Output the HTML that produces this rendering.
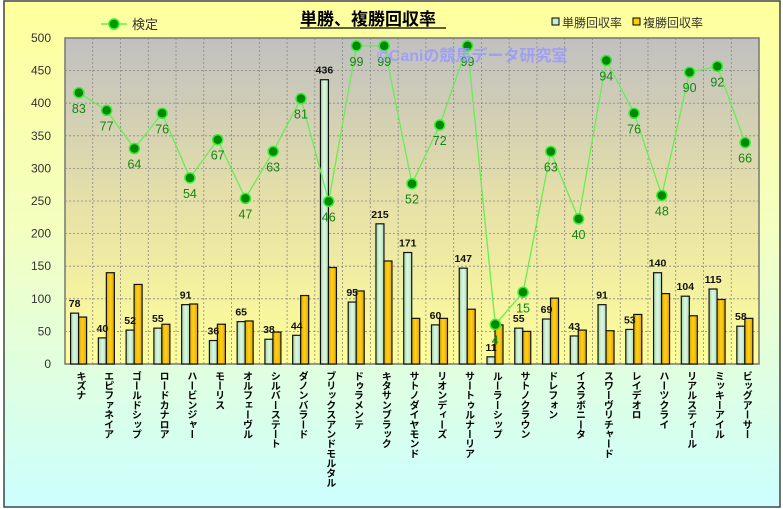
<!DOCTYPE html>
<html><head><meta charset="utf-8"><style>
body{margin:0;width:783px;height:509px;overflow:hidden;font-family:"Liberation Sans","Noto Sans CJK JP",sans-serif;}
#w{position:relative;width:783px;height:509px;}
.xl{position:absolute;top:371px;writing-mode:vertical-rl;text-orientation:upright;font-size:10px;color:#000;line-height:11px;white-space:nowrap;letter-spacing:-0.3px;font-weight:bold;}
</style></head><body><div id="w">
<svg width="783" height="509" style="position:absolute;left:0;top:0" font-family="Liberation Sans, Noto Sans CJK JP, sans-serif">
<defs>
<linearGradient id="bg" x1="0" y1="0" x2="0" y2="1"><stop offset="0" stop-color="#ffff9c"/><stop offset="0.45" stop-color="#f4ffc0"/><stop offset="1" stop-color="#ccffff"/></linearGradient>
<linearGradient id="pl" x1="0" y1="0" x2="0" y2="1"><stop offset="0" stop-color="#c0c0c0"/><stop offset="0.5" stop-color="#e6e0a8"/><stop offset="1" stop-color="#ffff99"/></linearGradient>
<linearGradient id="gb" x1="0" y1="0" x2="1" y2="0"><stop offset="0" stop-color="#9fd9a9"/><stop offset="0.5" stop-color="#e0f7e4"/><stop offset="1" stop-color="#a9dfb2"/></linearGradient>
<linearGradient id="ob" x1="0" y1="0" x2="1" y2="0"><stop offset="0" stop-color="#e6a800"/><stop offset="0.5" stop-color="#ffd21a"/><stop offset="1" stop-color="#e0a000"/></linearGradient>
</defs>
<rect x="4" y="1" width="776" height="506" fill="url(#bg)" stroke="#444" stroke-width="1.5"/>
<rect x="65" y="38" width="694" height="326" fill="url(#pl)" stroke="#777" stroke-width="1.5"/>
<g id="grid" stroke="#888" stroke-dasharray="2,2" stroke-width="0.8"></g>
<g id="bars"></g>
<g id="line"></g>
<text x="377" y="61" font-size="16" font-weight="bold" fill="#9999ff" opacity="0.85">©Caniの競馬データ研究室</text>
<text x="300" y="25" font-size="17" font-weight="bold" fill="#000">単勝、複勝回収率</text>
<line x1="300" y1="28" x2="446" y2="28" stroke="#000" stroke-width="1.2"/>
<line x1="101" y1="24" x2="127" y2="24" stroke="#66ee55" stroke-width="1.5"/>
<circle cx="114" cy="24" r="5" fill="#009900" stroke="#33ee33" stroke-width="1.5"/>
<text x="132" y="29" font-size="13" fill="#333">検定</text>
<rect x="552" y="18" width="7" height="7" fill="#c8f0d0" stroke="#000"/>
<text x="562" y="27" font-size="12" fill="#333">単勝回収率</text>
<rect x="633" y="18" width="7" height="7" fill="#ffcc00" stroke="#000"/>
<text x="643" y="27" font-size="12" fill="#333">複勝回収率</text>
<g id="yt" font-size="12" fill="#333" text-anchor="end"></g>
</svg>
<div id="xls"></div>
</div>
<script>
var names=["キズナ","エピファネイア","ゴールドシップ","ロードカナロア","ハービンジャー","モーリス","オルフェーヴル","シルバーステート","ダノンバラード","ブリックスアンドモルタル","ドゥラメンテ","キタサンブラック","サトノダイヤモンド","リオンディーズ","サートゥルナーリア","ルーラーシップ","サトノクラウン","ドレフォン","イスラボニータ","スワーヴリチャード","レイデオロ","ハーツクライ","リアルスティール","ミッキーアイル","ビッグアーサー"];
var t=[78,40,52,55,91,36,65,38,44,436,95,215,171,60,147,11,55,69,43,91,53,140,104,115,58];
var f=[72,140,122,61,92,61,66,49,105,148,112,158,70,70,84,60,50,101,52,51,76,108,74,99,70];
var k=[83,77,64,76,54,67,47,63,81,46,99,99,52,72,99,4,15,63,40,94,76,48,90,92,66];
var L=65,W=27.76,B=364,S=0.652,NS="http://www.w3.org/2000/svg";
function el(p,n,a,txt){var e=document.createElementNS(NS,n);for(var x in a)e.setAttribute(x,a[x]);if(txt!=null)e.textContent=txt;document.getElementById(p).appendChild(e);return e;}
for(var v=50;v<500;v+=50){el("grid","line",{x1:L,x2:759,y1:B-v*S,y2:B-v*S});}
for(var i=1;i<25;i++){var x=L+i*W;el("grid","line",{x1:x,x2:x,y1:38,y2:364});}
for(var v=0;v<=500;v+=50){el("yt","text",{x:51,y:B-v*S+4},v);}
var pts=[],xd=document.getElementById("xls");
for(var i=0;i<25;i++){
 var x0=L+i*W+5.6;
 el("bars","rect",{x:x0,y:B-t[i]*S,width:8,height:t[i]*S,fill:"url(#gb)",stroke:"#111","stroke-width":1.2});
 el("bars","rect",{x:x0+8,y:B-f[i]*S,width:8,height:f[i]*S,fill:"url(#ob)",stroke:"#111","stroke-width":1.2});
 el("bars","text",{x:x0+4,y:B-t[i]*S-6,"font-size":10.5,"font-weight":"bold","text-anchor":"middle",fill:"#111"},t[i]);
 var cx=L+i*W+W/2, cy=B-(4.5*k[i]+42.5)*S; pts.push(cx+","+cy);
 var d=document.createElement("div");d.className="xl";d.textContent=names[i];d.style.left=(cx-5)+"px";xd.appendChild(d);
}
el("line","polyline",{points:pts.join(" "),fill:"none",stroke:"#66ee55","stroke-width":1.3});
for(var i=0;i<25;i++){var p=pts[i].split(",");
 el("line","circle",{cx:p[0],cy:p[1],r:5,fill:"#008800",stroke:"#33ee33","stroke-width":1.5});
 el("line","text",{x:p[0],y:+p[1]+20,"font-size":12.5,fill:"#118811","text-anchor":"middle"},k[i]);}
</script>
</body></html>
